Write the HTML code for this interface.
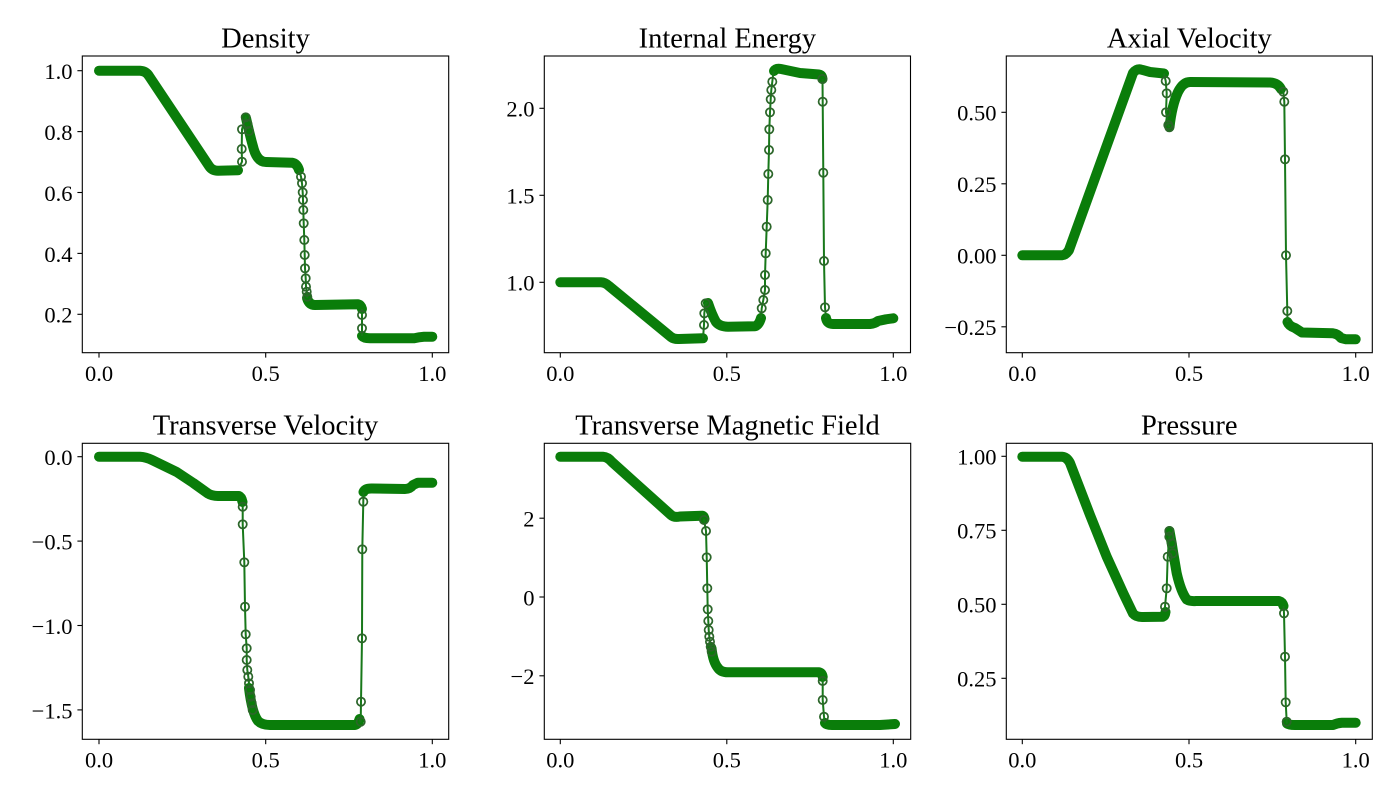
<!DOCTYPE html>
<html><head><meta charset="utf-8"><style>
html,body{margin:0;padding:0;background:#fff;}
svg{display:block;}
.band{fill:none;stroke:#0a7d0a;stroke-width:10;stroke-linecap:round;stroke-linejoin:round;}
.ln{fill:none;stroke:#18781a;stroke-width:2;stroke-linejoin:round;}
.mk{fill:none;stroke:#2c662a;stroke-width:1.75;}
.ax{fill:none;stroke:#000;stroke-width:1.1;}
.tk{stroke:#000;stroke-width:1.1;}
.tl{font-family:"Liberation Serif","DejaVu Serif",serif;font-size:22.5px;fill:#000;}
.tt{font-family:"Liberation Serif","DejaVu Serif",serif;font-size:28.5px;fill:#000;}
</style></head><body>
<svg width="1400" height="800" viewBox="0 0 1400 800" xmlns="http://www.w3.org/2000/svg">
<rect width="1400" height="800" fill="#fff"/>

<!-- ============ Panel 1: Density ============ -->
<g>
<path class="band" d="M99,70.7 L140,70.7 Q146,71 149,76 L209,166 Q212,170.7 218,170.7 L238,170.3"/>
<path class="band" d="M246,118 Q250,136 254,150 Q258,162 266,162 L292,162.7 Q297,163.5 299,170"/>
<path class="band" d="M307,298 Q309,305 315,305 L358,304.3 Q361,305 362,309"/>
<path class="band" d="M362,336 Q364,338.3 370,338.3 L414,338.3 Q419,337 424,336.7 L432.3,336.7"/>
<polyline class="ln" points="238,170.3 242,161.7 241.7,149 242,129.3 245.7,117.3 247,122"/>
<polyline class="ln" points="299,170 301,176.7 302,183.3 302.7,192.3 303,200 303.3,210 303.7,223.3 304.3,240 304.7,255 305,268.3 305.7,278.3 306,286.7 306.7,291.7 307.3,296.7 307,298"/>
<polyline class="ln" points="362,309 362,315 362,328.3 362,336"/>
<g class="mk">
<circle cx="242" cy="161.7" r="4.1"/><circle cx="241.7" cy="149" r="4.1"/><circle cx="242" cy="129.3" r="4.1"/><circle cx="245.7" cy="117.3" r="4.1"/><circle cx="247.5" cy="124" r="4.1"/><circle cx="249" cy="131" r="4.1"/>
<circle cx="301" cy="176.7" r="4.1"/><circle cx="302" cy="183.3" r="4.1"/><circle cx="302.7" cy="192.3" r="4.1"/><circle cx="303" cy="200" r="4.1"/><circle cx="303.3" cy="210" r="4.1"/><circle cx="303.7" cy="223.3" r="4.1"/><circle cx="304.3" cy="240" r="4.1"/><circle cx="304.7" cy="255" r="4.1"/><circle cx="305" cy="268.3" r="4.1"/><circle cx="305.7" cy="278.3" r="4.1"/><circle cx="306" cy="286.7" r="4.1"/><circle cx="306.7" cy="291.7" r="4.1"/><circle cx="307.3" cy="296.7" r="4.1"/>
<circle cx="362" cy="315" r="4.1"/><circle cx="362" cy="328.3" r="4.1"/>
</g>
<rect class="ax" x="82.3" y="56" width="366.4" height="296.7"/>
<line class="tk" x1="99" y1="352.7" x2="99" y2="357.6"/><line class="tk" x1="265.7" y1="352.7" x2="265.7" y2="357.6"/><line class="tk" x1="432.3" y1="352.7" x2="432.3" y2="357.6"/>
<text class="tl" x="99" y="381" text-anchor="middle">0.0</text><text class="tl" x="265.7" y="381" text-anchor="middle">0.5</text><text class="tl" x="432.3" y="381" text-anchor="middle">1.0</text>
<line class="tk" x1="77.4" y1="314.3" x2="82.3" y2="314.3"/><line class="tk" x1="77.4" y1="253.4" x2="82.3" y2="253.4"/><line class="tk" x1="77.4" y1="192.5" x2="82.3" y2="192.5"/><line class="tk" x1="77.4" y1="131.6" x2="82.3" y2="131.6"/><line class="tk" x1="77.4" y1="70.7" x2="82.3" y2="70.7"/>
<text class="tl" x="72.5" y="322.7" text-anchor="end">0.2</text><text class="tl" x="72.5" y="261.8" text-anchor="end">0.4</text><text class="tl" x="72.5" y="200.9" text-anchor="end">0.6</text><text class="tl" x="72.5" y="140" text-anchor="end">0.8</text><text class="tl" x="72.5" y="79.1" text-anchor="end">1.0</text>
<text class="tt" x="265.5" y="47.3" text-anchor="middle">Density</text>
</g>

<!-- ============ Panel 2: Internal Energy ============ -->
<g>
<path class="band" d="M560.3,282.3 L601,282.3 Q605,282.5 609,286 L671,337 Q674,339.3 679,339 L703,338.3"/>
<path class="band" d="M708,303 Q712,315 716,322 Q720,326.7 728,326.7 L755,326.3 Q759,325 761,318"/>
<path class="band" d="M774,71 Q776,68 781,69 L800,73 L819,74.5 Q822,75 822.5,79"/>
<path class="band" d="M826,318 Q827,324 833,324 L870,324 Q875,323.5 878,321 L886,319.3 L893.3,318.3"/>
<polyline class="ln" points="703,338.3 704,325 704.3,313.3 705.7,303.3 707.7,302.7"/>
<polyline class="ln" points="761,318 761.7,308.3 763.3,300 765,290 765,275 765.7,253.3 766.7,226.7 767.7,200 768.3,174 769,150 769.3,129.3 770,112.3 770.7,99.3 771.3,90 772.3,81.7 773.3,73.3 774,71"/>
<polyline class="ln" points="822.5,79 822.7,101.7 823.3,172.7 824,261 825,307.3 826,318"/>
<g class="mk">
<circle cx="704" cy="325" r="4.1"/><circle cx="704.3" cy="313.3" r="4.1"/><circle cx="705.7" cy="303.3" r="4.1"/>
<circle cx="761.7" cy="308.3" r="4.1"/><circle cx="763.3" cy="300" r="4.1"/><circle cx="765" cy="290" r="4.1"/><circle cx="765" cy="275" r="4.1"/><circle cx="765.7" cy="253.3" r="4.1"/><circle cx="766.7" cy="226.7" r="4.1"/><circle cx="767.7" cy="200" r="4.1"/><circle cx="768.3" cy="174" r="4.1"/><circle cx="769" cy="150" r="4.1"/><circle cx="769.3" cy="129.3" r="4.1"/><circle cx="770" cy="112.3" r="4.1"/><circle cx="770.7" cy="99.3" r="4.1"/><circle cx="771.3" cy="90" r="4.1"/><circle cx="772.3" cy="81.7" r="4.1"/>
<circle cx="822.3" cy="79" r="4.1"/><circle cx="822.7" cy="101.7" r="4.1"/><circle cx="823.3" cy="172.7" r="4.1"/><circle cx="824" cy="261" r="4.1"/><circle cx="825" cy="307.3" r="4.1"/>
</g>
<rect class="ax" x="544.3" y="56" width="366.2" height="296.7"/>
<line class="tk" x1="560.3" y1="352.7" x2="560.3" y2="357.6"/><line class="tk" x1="726.8" y1="352.7" x2="726.8" y2="357.6"/><line class="tk" x1="893.3" y1="352.7" x2="893.3" y2="357.6"/>
<text class="tl" x="560.3" y="381" text-anchor="middle">0.0</text><text class="tl" x="726.8" y="381" text-anchor="middle">0.5</text><text class="tl" x="893.3" y="381" text-anchor="middle">1.0</text>
<line class="tk" x1="539.4" y1="282.3" x2="544.3" y2="282.3"/><line class="tk" x1="539.4" y1="195.3" x2="544.3" y2="195.3"/><line class="tk" x1="539.4" y1="108.3" x2="544.3" y2="108.3"/>
<text class="tl" x="534.5" y="290.7" text-anchor="end">1.0</text><text class="tl" x="534.5" y="203.7" text-anchor="end">1.5</text><text class="tl" x="534.5" y="116.7" text-anchor="end">2.0</text>
<text class="tt" x="727.4" y="47.3" text-anchor="middle">Internal Energy</text>
</g>

<!-- ============ Panel 3: Axial Velocity ============ -->
<g>
<path class="band" d="M1022.3,255.3 L1062,255.3 Q1066,255 1069,250 L1133,73 Q1136,69 1140,69.3 L1150,72 L1164,73.5"/>
<path class="band" d="M1169.5,127 Q1172,105 1178,92 Q1183,82 1190,82 L1270,82.5 Q1278,83 1281,89"/>
<path class="band" d="M1287.5,322 Q1289,326 1295,328 L1302,332.5 L1333,333.3 Q1338,334 1341,338 L1346,339.3 L1355.7,339.3"/>
<polyline class="ln" points="1164,73.5 1165.7,81 1166.7,93.3 1166,112.3 1168.3,125 1169.3,127.3"/>
<polyline class="ln" points="1281,89 1283.3,91.7 1284.3,101.7 1285,159.3 1286,255.3 1287.3,311 1287.5,322"/>
<g class="mk">
<circle cx="1165.7" cy="81" r="4.1"/><circle cx="1166.7" cy="93.3" r="4.1"/><circle cx="1166" cy="112.3" r="4.1"/><circle cx="1168.3" cy="125" r="4.1"/><circle cx="1169.3" cy="127.3" r="4.1"/>
<circle cx="1283.3" cy="91.7" r="4.1"/><circle cx="1284.3" cy="101.7" r="4.1"/><circle cx="1285" cy="159.3" r="4.1"/><circle cx="1286" cy="255.3" r="4.1"/><circle cx="1287.3" cy="311" r="4.1"/>
</g>
<rect class="ax" x="1006.3" y="56" width="366" height="296.7"/>
<line class="tk" x1="1022.3" y1="352.7" x2="1022.3" y2="357.6"/><line class="tk" x1="1189" y1="352.7" x2="1189" y2="357.6"/><line class="tk" x1="1355.7" y1="352.7" x2="1355.7" y2="357.6"/>
<text class="tl" x="1022.3" y="381" text-anchor="middle">0.0</text><text class="tl" x="1189" y="381" text-anchor="middle">0.5</text><text class="tl" x="1355.7" y="381" text-anchor="middle">1.0</text>
<line class="tk" x1="1001.4" y1="326.8" x2="1006.3" y2="326.8"/><line class="tk" x1="1001.4" y1="255.3" x2="1006.3" y2="255.3"/><line class="tk" x1="1001.4" y1="183.8" x2="1006.3" y2="183.8"/><line class="tk" x1="1001.4" y1="112.3" x2="1006.3" y2="112.3"/>
<text class="tl" x="996.5" y="335.2" text-anchor="end">−0.25</text><text class="tl" x="996.5" y="263.7" text-anchor="end">0.00</text><text class="tl" x="996.5" y="192.2" text-anchor="end">0.25</text><text class="tl" x="996.5" y="120.7" text-anchor="end">0.50</text>
<text class="tt" x="1189.3" y="47.3" text-anchor="middle">Axial Velocity</text>
</g>

<!-- ============ Panel 4: Transverse Velocity ============ -->
<g>
<path class="band" d="M99,456.7 L140,456.7 Q146,457 152,460 L176.7,472 L193.3,483 L208,493.5 Q212,496 218,496 L239,496 Q241.5,497 242.5,502"/>
<path class="band" d="M249,688 Q252,713 258,721 Q262,725 270,725 L355,725 Q358.5,724 359.5,719"/>
<path class="band" d="M363.5,492 Q365,488.3 372,488.5 L405,489 Q410,489 413,485 L418,482.7 L432.3,482.7"/>
<polyline class="ln" points="242.5,502 242.7,506.7 242.7,524.3 244.3,562.3 245,606.7 245.7,634.3 246.7,648.3 246.7,660 247.3,670 248.3,676.7 249,683.3 249,688"/>
<polyline class="ln" points="359.5,719 360.7,721.7 361,701.7 362,638.3 362.3,549.3 363.3,501.7 363.5,492"/>
<g class="mk">
<circle cx="242.7" cy="506.7" r="4.1"/><circle cx="242.7" cy="524.3" r="4.1"/><circle cx="244.3" cy="562.3" r="4.1"/><circle cx="245" cy="606.7" r="4.1"/><circle cx="245.7" cy="634.3" r="4.1"/><circle cx="246.7" cy="648.3" r="4.1"/><circle cx="246.7" cy="660" r="4.1"/><circle cx="247.3" cy="670" r="4.1"/><circle cx="248.3" cy="676.7" r="4.1"/><circle cx="249" cy="683.3" r="4.1"/><circle cx="250" cy="690" r="4.1"/><circle cx="250.7" cy="696.7" r="4.1"/><circle cx="251.7" cy="703.3" r="4.1"/><circle cx="252.7" cy="710" r="4.1"/>
<circle cx="360.7" cy="721.7" r="4.1"/><circle cx="361" cy="701.7" r="4.1"/><circle cx="362" cy="638.3" r="4.1"/><circle cx="362.3" cy="549.3" r="4.1"/><circle cx="363.3" cy="501.7" r="4.1"/>
</g>
<rect class="ax" x="82.3" y="443.3" width="366.4" height="296"/>
<line class="tk" x1="99" y1="739.3" x2="99" y2="744.2"/><line class="tk" x1="265.7" y1="739.3" x2="265.7" y2="744.2"/><line class="tk" x1="432.3" y1="739.3" x2="432.3" y2="744.2"/>
<text class="tl" x="99" y="767.6" text-anchor="middle">0.0</text><text class="tl" x="265.7" y="767.6" text-anchor="middle">0.5</text><text class="tl" x="432.3" y="767.6" text-anchor="middle">1.0</text>
<line class="tk" x1="77.4" y1="456.7" x2="82.3" y2="456.7"/><line class="tk" x1="77.4" y1="541.1" x2="82.3" y2="541.1"/><line class="tk" x1="77.4" y1="625.5" x2="82.3" y2="625.5"/><line class="tk" x1="77.4" y1="709.9" x2="82.3" y2="709.9"/>
<text class="tl" x="72.5" y="465.1" text-anchor="end">0.0</text><text class="tl" x="72.5" y="549.5" text-anchor="end">−0.5</text><text class="tl" x="72.5" y="633.9" text-anchor="end">−1.0</text><text class="tl" x="72.5" y="718.3" text-anchor="end">−1.5</text>
<text class="tt" x="265.5" y="434.5" text-anchor="middle">Transverse Velocity</text>
</g>

<!-- ============ Panel 5: Transverse Magnetic Field ============ -->
<g>
<path class="band" d="M560.3,456.7 L603,456.7 Q608,457 612,462 L671,515 Q674,517.7 680,516.5 L702,515.7 Q704,516 704.5,519"/>
<path class="band" d="M711.5,648 Q713,662 718,668 Q721,672.3 728,672.3 L819,672.3 Q822,673 822.7,677"/>
<path class="band" d="M825,723 Q826.5,725 832,725 L880,725 L895,724"/>
<polyline class="ln" points="704.5,519 704,520 706,531 706.7,557.3 707.3,588.3 707.7,609.3 708.3,621 708.7,630 709.3,636.7 710,641.7 710.7,646.7 711.5,648"/>
<polyline class="ln" points="822.7,677 822.7,681 822.7,700 824,716.7 825,723"/>
<g class="mk">
<circle cx="704" cy="520" r="4.1"/><circle cx="706" cy="531" r="4.1"/><circle cx="706.7" cy="557.3" r="4.1"/><circle cx="707.3" cy="588.3" r="4.1"/><circle cx="707.7" cy="609.3" r="4.1"/><circle cx="708.3" cy="621" r="4.1"/><circle cx="708.7" cy="630" r="4.1"/><circle cx="709.3" cy="636.7" r="4.1"/><circle cx="710" cy="641.7" r="4.1"/><circle cx="710.7" cy="646.7" r="4.1"/><circle cx="711.7" cy="651.7" r="4.1"/>
<circle cx="822.7" cy="681" r="4.1"/><circle cx="822.7" cy="700" r="4.1"/><circle cx="824" cy="716.7" r="4.1"/>
</g>
<rect class="ax" x="544.3" y="443.3" width="366.4" height="296"/>
<line class="tk" x1="560.3" y1="739.3" x2="560.3" y2="744.2"/><line class="tk" x1="726.8" y1="739.3" x2="726.8" y2="744.2"/><line class="tk" x1="893.3" y1="739.3" x2="893.3" y2="744.2"/>
<text class="tl" x="560.3" y="767.6" text-anchor="middle">0.0</text><text class="tl" x="726.8" y="767.6" text-anchor="middle">0.5</text><text class="tl" x="893.3" y="767.6" text-anchor="middle">1.0</text>
<line class="tk" x1="539.4" y1="518.2" x2="544.3" y2="518.2"/><line class="tk" x1="539.4" y1="597" x2="544.3" y2="597"/><line class="tk" x1="539.4" y1="675.8" x2="544.3" y2="675.8"/>
<text class="tl" x="534.5" y="526.6" text-anchor="end">2</text><text class="tl" x="534.5" y="605.4" text-anchor="end">0</text><text class="tl" x="534.5" y="684.2" text-anchor="end">−2</text>
<text class="tt" x="727.5" y="434.5" text-anchor="middle">Transverse Magnetic Field</text>
</g>

<!-- ============ Panel 6: Pressure ============ -->
<g>
<path class="band" d="M1022.3,456.7 L1062,456.7 Q1067,457 1070,463 L1090,515 L1106.7,556.7 L1123.3,593.3 L1133,613.5 Q1136,617 1142,617 L1163,616.7 Q1165,616 1165.5,612"/>
<path class="band" d="M1169.5,531 L1171.7,543.3 L1173.3,553.3 L1176.7,573.3 Q1181,592 1186.7,599.5 Q1190,601.5 1196,601 L1279,601 Q1282.5,602 1283.5,606"/>
<path class="band" d="M1287,723.5 Q1289,725 1295,725 L1333,725 Q1337,723 1342,722.7 L1355.7,722.7"/>
<polyline class="ln" points="1165.5,612 1165,606.7 1166.7,588.3 1167.7,556.7 1169.3,536.7 1169.3,531"/>
<polyline class="ln" points="1283.5,606 1284,613.3 1285,656.7 1285.7,702.3 1286.7,721.7 1287,723.5"/>
<g class="mk">
<circle cx="1165" cy="606.7" r="4.1"/><circle cx="1166.7" cy="588.3" r="4.1"/><circle cx="1167.7" cy="556.7" r="4.1"/><circle cx="1169.3" cy="536.7" r="4.1"/><circle cx="1169.3" cy="531" r="4.1"/><circle cx="1171.7" cy="543.3" r="4.1"/><circle cx="1172.7" cy="553.3" r="4.1"/>
<circle cx="1284" cy="613.3" r="4.1"/><circle cx="1285" cy="656.7" r="4.1"/><circle cx="1285.7" cy="702.3" r="4.1"/><circle cx="1286.7" cy="721.7" r="4.1"/>
</g>
<rect class="ax" x="1006.3" y="443.3" width="366" height="296"/>
<line class="tk" x1="1022.3" y1="739.3" x2="1022.3" y2="744.2"/><line class="tk" x1="1189" y1="739.3" x2="1189" y2="744.2"/><line class="tk" x1="1355.7" y1="739.3" x2="1355.7" y2="744.2"/>
<text class="tl" x="1022.3" y="767.6" text-anchor="middle">0.0</text><text class="tl" x="1189" y="767.6" text-anchor="middle">0.5</text><text class="tl" x="1355.7" y="767.6" text-anchor="middle">1.0</text>
<line class="tk" x1="1001.4" y1="456.3" x2="1006.3" y2="456.3"/><line class="tk" x1="1001.4" y1="530.3" x2="1006.3" y2="530.3"/><line class="tk" x1="1001.4" y1="604.3" x2="1006.3" y2="604.3"/><line class="tk" x1="1001.4" y1="678.3" x2="1006.3" y2="678.3"/>
<text class="tl" x="996.5" y="464.7" text-anchor="end">1.00</text><text class="tl" x="996.5" y="538.7" text-anchor="end">0.75</text><text class="tl" x="996.5" y="612.7" text-anchor="end">0.50</text><text class="tl" x="996.5" y="686.7" text-anchor="end">0.25</text>
<text class="tt" x="1189.3" y="434.5" text-anchor="middle">Pressure</text>
</g>
</svg>
</body></html>
